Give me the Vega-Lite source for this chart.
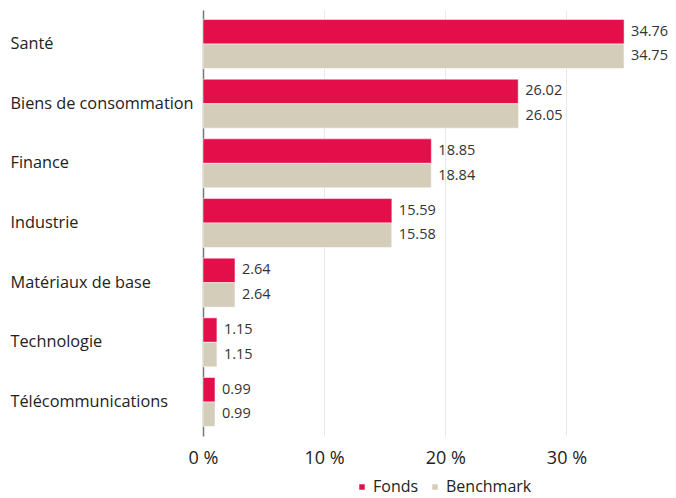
{
  "$schema": "https://vega.github.io/schema/vega-lite/v6.json",
  "width": 424,
  "height": 426,
  "autosize": "none",
  "padding": {"left": 203, "top": 10, "right": 49, "bottom": 62},
  "config": {"view": {"stroke": null}, "font": "Open Sans"},
  "data": {"values": [
    {"cat": "Santé", "serie": "Fonds", "value": 34.76},
    {"cat": "Santé", "serie": "Benchmark", "value": 34.75},
    {"cat": "Biens de consommation", "serie": "Fonds", "value": 26.02},
    {"cat": "Biens de consommation", "serie": "Benchmark", "value": 26.05},
    {"cat": "Finance", "serie": "Fonds", "value": 18.85},
    {"cat": "Finance", "serie": "Benchmark", "value": 18.84},
    {"cat": "Industrie", "serie": "Fonds", "value": 15.59},
    {"cat": "Industrie", "serie": "Benchmark", "value": 15.58},
    {"cat": "Matériaux de base", "serie": "Fonds", "value": 2.64},
    {"cat": "Matériaux de base", "serie": "Benchmark", "value": 2.64},
    {"cat": "Technologie", "serie": "Fonds", "value": 1.15},
    {"cat": "Technologie", "serie": "Benchmark", "value": 1.15},
    {"cat": "Télécommunications", "serie": "Fonds", "value": 0.99},
    {"cat": "Télécommunications", "serie": "Benchmark", "value": 0.99}
  ]},
  "encoding": {
    "y": {
      "field": "cat", "type": "nominal", "sort": null, "title": null,
      "scale": {"paddingInner": 0.18, "paddingOuter": 0.16},
      "axis": {
        "labelAlign": "left", "labelPadding": 193, "labelFontSize": 16.3,
        "labelColor": "#222222", "ticks": false, "domainColor": "#777777",
        "domainWidth": 1.5, "labelLimit": 200
      }
    },
    "yOffset": {"field": "serie", "type": "nominal", "sort": ["Fonds", "Benchmark"]},
    "x": {
      "field": "value", "type": "quantitative", "title": null,
      "scale": {"domain": [0, 35], "nice": false},
      "axis": {
        "values": [0, 10, 20, 30], "labelExpr": "datum.value + ' %'",
        "labelFontSize": 18, "labelColor": "#222222", "labelPadding": 13,
        "domain": false, "ticks": false, "gridColor": "#e8e8e8",
        "labelFlush": false
      }
    }
  },
  "layer": [
    {
      "mark": {"type": "bar", "stroke": "white", "strokeWidth": 0.5},
      "encoding": {
        "color": {
          "field": "serie", "type": "nominal", "title": null,
          "scale": {"domain": ["Fonds", "Benchmark"], "range": ["#E40F4A", "#D4CDBA"]},
          "legend": {
            "orient": "none", "direction": "horizontal", "legendX": 151, "legendY": 469,
            "symbolType": "square", "symbolSize": 30, "symbolStrokeWidth": 0,
            "labelFontSize": 16, "labelColor": "#222222", "columnPadding": 8, "labelOffset": 3
          }
        }
      }
    },
    {
      "mark": {"type": "text", "align": "left", "dx": 7, "fontSize": 14.5, "color": "#333333"},
      "encoding": {"text": {"field": "value", "type": "quantitative", "format": ".2f"}}
    }
  ]
}
